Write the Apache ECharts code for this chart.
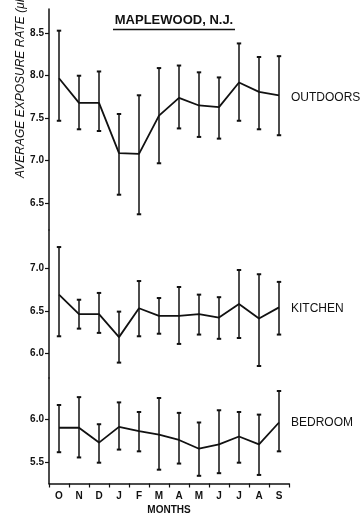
<!DOCTYPE html>
<html>
<head>
<meta charset="utf-8">
<script src="https://cdn.jsdelivr.net/npm/echarts@6/dist/echarts.min.js"></script>
<style>
  html, body { margin: 0; padding: 0; background: #fff; }
  #chart { width: 360px; height: 517px; }
</style>
</head>
<body>
<div id="chart"></div>
<script>
// Monthly average exposure rate, October through September
const months = ['O', 'N', 'D', 'J', 'F', 'M', 'A', 'M', 'J', 'J', 'A', 'S'];

const outdoorsMean = [7.97, 7.68, 7.68, 7.09, 7.08, 7.53, 7.74, 7.65, 7.63, 7.92, 7.81, 7.77];
const outdoorsHigh = [8.53, 8.00, 8.05, 7.55, 7.77, 8.09, 8.12, 8.04, 7.98, 8.38, 8.22, 8.23];
const outdoorsLow  = [7.47, 7.37, 7.35, 6.60, 6.37, 6.97, 7.38, 7.28, 7.26, 7.47, 7.37, 7.30];

const kitchenMean = [6.69, 6.46, 6.46, 6.19, 6.53, 6.44, 6.44, 6.46, 6.42, 6.58, 6.41, 6.54];
const kitchenHigh = [7.25, 6.63, 6.71, 6.49, 6.85, 6.65, 6.78, 6.69, 6.66, 6.98, 6.93, 6.84];
const kitchenLow  = [6.20, 6.29, 6.24, 5.89, 6.20, 6.23, 6.11, 6.22, 6.17, 6.18, 5.85, 6.22];

const bedroomMean = [5.90, 5.90, 5.73, 5.91, 5.86, 5.82, 5.76, 5.66, 5.71, 5.80, 5.71, 5.96];
const bedroomHigh = [6.16, 6.25, 5.94, 6.19, 6.08, 6.24, 6.07, 5.96, 6.10, 6.08, 6.05, 6.32];
const bedroomLow  = [5.62, 5.56, 5.50, 5.65, 5.63, 5.42, 5.49, 5.35, 5.38, 5.50, 5.36, 5.63];

const outdoorsTicks = [6.5, 7.0, 7.5, 8.0, 8.5];
const kitchenTicks = [6.0, 6.5, 7.0];
const bedroomTicks = [5.5, 6.0];

const INK = '#111';
const FONT = '"Liberation Sans", Arial, sans-serif';

const chart = echarts.init(document.getElementById('chart'), null, { renderer: 'canvas' });

function yAxisFor(gridIndex, min, max, ticks) {
  return {
    type: 'value', gridIndex, min, max,
    axisLine: { show: true, lineStyle: { color: INK, width: 1.5 } },
    axisTick: { show: true, length: 4, customValues: ticks, lineStyle: { color: INK, width: 1.2 } },
    axisLabel: {
      customValues: ticks, margin: 5, color: INK, fontFamily: FONT,
      fontSize: 10, fontWeight: 'bold',
      formatter: v => v.toFixed(1)
    },
    splitLine: { show: false }
  };
}

function xAxisFor(gridIndex, visible) {
  return {
    type: 'category', gridIndex, data: months, boundaryGap: true,
    show: visible,
    axisLine: { show: visible, lineStyle: { color: INK, width: 1.5 } },
    axisTick: { show: visible, length: 4, lineStyle: { color: INK, width: 1.2 } },
    axisLabel: { show: visible, margin: 8, color: INK, fontFamily: FONT, fontSize: 10, fontWeight: 'bold' },
    name: visible ? 'MONTHS' : '',
    nameLocation: 'middle', nameGap: 22,
    nameTextStyle: { color: INK, fontFamily: FONT, fontSize: 10, fontWeight: 'bold' }
  };
}

// Vertical range bar with short caps at both ends
function errorBarRender(params, api) {
  const x = api.value(0);
  const lo = api.coord([x, api.value(1)]);
  const hi = api.coord([x, api.value(2)]);
  const cap = 2.2;
  const style = { stroke: INK, lineWidth: 1.5 };
  return {
    type: 'group',
    children: [
      { type: 'line', shape: { x1: lo[0], y1: lo[1], x2: hi[0], y2: hi[1] }, style },
      { type: 'line', shape: { x1: lo[0] - cap, y1: lo[1], x2: lo[0] + cap, y2: lo[1] }, style: { stroke: INK, lineWidth: 2 } },
      { type: 'line', shape: { x1: hi[0] - cap, y1: hi[1], x2: hi[0] + cap, y2: hi[1] }, style: { stroke: INK, lineWidth: 2 } }
    ]
  };
}

function rangeData(low, high) {
  return months.map((m, i) => [i, low[i], high[i]]);
}

function meanSeries(name, idx, values, offsetY) {
  return {
    type: 'line', name, xAxisIndex: idx, yAxisIndex: idx,
    data: values, showSymbol: false, symbol: 'none',
    lineStyle: { color: INK, width: 1.8 },
    animation: false,
    endLabel: {
      show: true, formatter: name, distance: 12, offset: [0, offsetY],
      color: INK, fontFamily: FONT, fontSize: 12
    },
    z: 3
  };
}

function barSeries(idx, low, high) {
  return {
    type: 'custom', xAxisIndex: idx, yAxisIndex: idx,
    data: rangeData(low, high), renderItem: errorBarRender,
    encode: { x: 0, y: [1, 2] }, animation: false, z: 2
  };
}

chart.setOption({
  animation: false,
  grid: [
    { left: 49, top: 9, width: 240, height: 221 },
    { left: 49, top: 230, width: 240, height: 148 },
    { left: 49, top: 378, width: 240, height: 105.5 }
  ],
  xAxis: [xAxisFor(0, false), xAxisFor(1, false), xAxisFor(2, true)],
  yAxis: [
    yAxisFor(0, 6.185, 8.785, outdoorsTicks),
    yAxisFor(1, 5.709, 7.4506, kitchenTicks),
    yAxisFor(2, 5.262, 6.469, bedroomTicks)
  ],
  series: [
    barSeries(0, outdoorsLow, outdoorsHigh),
    meanSeries('OUTDOORS', 0, outdoorsMean, 2),
    barSeries(1, kitchenLow, kitchenHigh),
    meanSeries('KITCHEN', 1, kitchenMean, 1),
    barSeries(2, bedroomLow, bedroomHigh),
    meanSeries('BEDROOM', 2, bedroomMean, 0)
  ],
  graphic: [
    {
      type: 'text', x: 174, y: 20,
      style: {
        text: 'MAPLEWOOD, N.J.', fill: INK, font: 'bold 13px ' + FONT,
        textAlign: 'center', textVerticalAlign: 'middle'
      }
    },
    {
      type: 'line', shape: { x1: 113, y1: 29.5, x2: 235, y2: 29.5 },
      style: { stroke: INK, lineWidth: 1.3 }
    },
    {
      type: 'text', x: 21, y: 178, rotation: Math.PI / 2,
      style: {
        text: 'AVERAGE EXPOSURE RATE (μR/hr)', fill: INK,
        font: 'italic 12px ' + FONT, textAlign: 'left', textVerticalAlign: 'middle'
      }
    }
  ]
});
</script>
</body>
</html>
